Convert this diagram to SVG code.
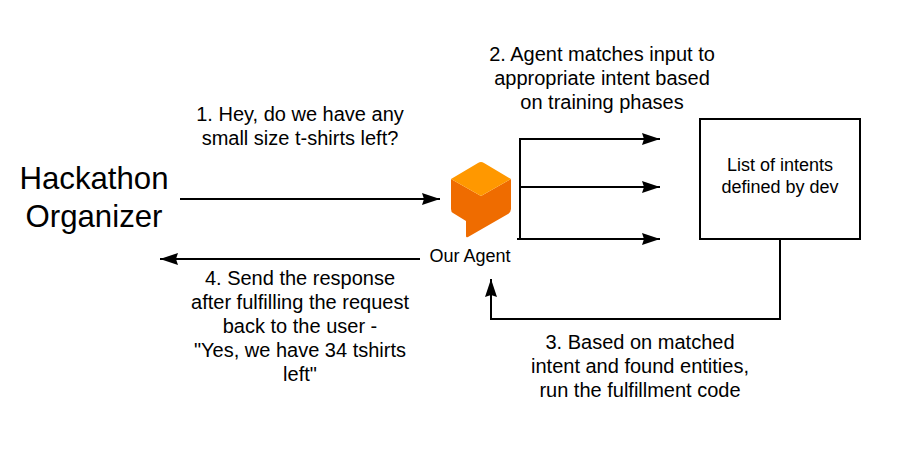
<svg xmlns="http://www.w3.org/2000/svg" width="900" height="450" viewBox="0 0 900 450">
<style>
text{font-family:"Liberation Sans",Arial,sans-serif;fill:#000;text-anchor:middle}
.l{font-size:20px}
.t{font-size:31.2px}
.s{font-size:18px}
.c{fill:none;stroke:#000;stroke-width:2}
</style>
<defs><marker id="a" markerUnits="userSpaceOnUse" markerWidth="20" markerHeight="12" refX="18" refY="6" orient="auto"><path d="M0 0L18 6L0 12L2 6Z" fill="#000"/></marker></defs>
<rect width="900" height="450" fill="#fff"/>
<g id="connectors">
<path class="c" d="M180 199H440" marker-end="url(#a)"/>
<path class="c" d="M420 259H160" marker-end="url(#a)"/>
<path class="c" d="M520 239V139H660" marker-end="url(#a)"/>
<path class="c" d="M520 187H660" marker-end="url(#a)"/>
<path class="c" d="M517 239H660" marker-end="url(#a)"/>
<path class="c" d="M780 239V319H491V279" marker-end="url(#a)"/>
</g>
<g id="organizer"><text class="t" x="94" y="189">Hackathon</text><text class="t" x="94" y="227">Organizer</text></g>
<g id="agent">
<path d="M466 221V236Q466 238 468 237L508 214Q511 212 511 209V179L481 196L451 179V209Q451 212 453 213Z" fill="#ef6c00"/>
<path d="M451 179L478 163Q481 161 484 163L511 179L481 196Z" fill="#ff9800"/>
<text class="s" x="470" y="262">Our Agent</text>
</g>
<g id="intents"><rect x="700" y="119" width="160" height="120" fill="#fff" stroke="#000" stroke-width="2"/><text class="s" x="780" y="171">List of intents</text><text class="s" x="780" y="193">defined by dev</text></g>
<g id="label-1"><text class="l" x="300" y="121">1. Hey, do we have any</text><text class="l" x="300" y="145">small size t-shirts left?</text></g>
<g id="label-2"><text class="l" x="602" y="61">2. Agent matches input to</text><text class="l" x="602" y="85">appropriate intent based</text><text class="l" x="602" y="109">on training phases</text></g>
<g id="label-3"><text class="l" x="640" y="349">3. Based on matched</text><text class="l" x="640" y="373">intent and found entities,</text><text class="l" x="640" y="397">run the fulfillment code</text></g>
<g id="label-4"><text class="l" x="300" y="285">4. Send the response</text><text class="l" x="300" y="309">after fulfilling the request</text><text class="l" x="300" y="333">back to the user -</text><text class="l" x="300" y="357">"Yes, we have 34 tshirts</text><text class="l" x="300" y="381">left"</text></g>
</svg>
